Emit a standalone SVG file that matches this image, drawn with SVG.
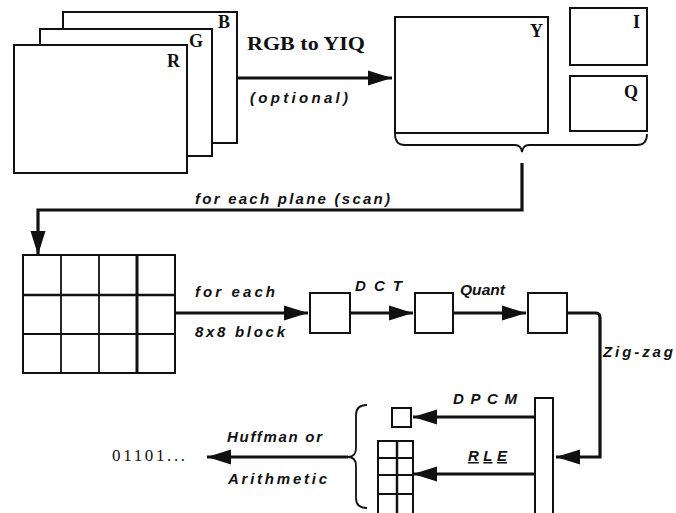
<svg xmlns="http://www.w3.org/2000/svg" width="676" height="513" viewBox="0 0 676 513">
<defs>
<style>
.box{fill:#fff;stroke:#111;stroke-width:2}
.thin{fill:none;stroke:#111;stroke-width:1.8}
.conn{fill:none;stroke:#111;stroke-width:3.2}
.lbl{font-family:"Liberation Serif",serif;font-weight:bold;fill:#111}
.it{font-family:"Liberation Sans",sans-serif;font-weight:bold;font-style:italic;fill:#111;font-size:15px}
</style>
<marker id="ah" markerUnits="userSpaceOnUse" markerWidth="26" markerHeight="18" refX="24" refY="9" orient="auto">
<path d="M0,1.5 L24,9 L0,16.5 Z" fill="#111"/>
</marker>
</defs>
<rect width="676" height="513" fill="#fff"/>

<g id="rgb-planes">
<rect class="box" x="63" y="12" width="174" height="131"/>
<text class="lbl" x="218" y="28" font-size="18">B</text>
<rect class="box" x="40" y="29" width="172" height="127"/>
<text class="lbl" x="189" y="47" font-size="18">G</text>
<rect class="box" x="14" y="45" width="173" height="128"/>
<text class="lbl" x="167" y="67" font-size="18">R</text>
</g>

<g id="yiq-planes">
<rect class="box" x="395" y="17" width="153" height="116"/>
<text class="lbl" x="530" y="37" font-size="18">Y</text>
<rect class="box" x="570" y="8" width="77" height="57"/>
<text class="lbl" x="633" y="28" font-size="18">I</text>
<rect class="box" x="570" y="76" width="77" height="55"/>
<text class="lbl" x="624" y="98" font-size="18">Q</text>
<path class="thin" d="M395,134 Q395,145 405,145 L515,145 Q521,145 522,152 Q523,145 529,145 L637,145 Q647,145 647,134"/>
</g>

<g id="block-grid">
<rect class="box" x="23" y="255" width="152" height="118"/>
<path class="thin" d="M61,255 V373 M99,255 V373 M23,295 H175 M23,334 H175"/>
<path d="M137,255 V373" stroke="#111" stroke-width="3"/>
<path d="M23,295 H175" stroke="#111" stroke-width="2.6"/>
</g>

<g id="dct-input"><rect class="box" x="310" y="293" width="40" height="40"/></g>
<g id="dct-output"><rect class="box" x="415" y="293" width="38" height="40"/></g>
<g id="quant-output"><rect class="box" x="528" y="293" width="39" height="40"/></g>

<g id="zigzag-vector"><rect class="box" x="535" y="398" width="18" height="125"/></g>

<g id="dc-coef"><rect class="box" x="392" y="408" width="19" height="19"/></g>

<g id="ac-coefs">
<rect class="box" x="378" y="441" width="35" height="75"/>
<path class="thin" d="M397,441 V516 M378,458 H413 M378,475 H413 M378,494 H413"/>
<path d="M397,441 V516" stroke="#111" stroke-width="2.5"/>
</g>

<g id="coef-brace">
<path class="thin" d="M367,405 Q356,405 356,415 L356,448 Q356,457 348,457 Q356,457 356,466 L356,498 Q356,508 367,508"/>
</g>

<g id="output-bits">
<text x="112" y="461" font-family="Liberation Serif, serif" font-size="17" fill="#111" textLength="73">01101...</text>
</g>

<g id="connectors">
<line class="conn" x1="237" y1="78" x2="392" y2="78" marker-end="url(#ah)"/>
<polyline class="conn" points="522,163 522,210 38,210 38,255" marker-end="url(#ah)"/>
<line class="conn" x1="175" y1="313" x2="308" y2="313" marker-end="url(#ah)"/>
<line class="conn" x1="350" y1="313" x2="413" y2="313" marker-end="url(#ah)"/>
<line class="conn" x1="453" y1="313" x2="526" y2="313" marker-end="url(#ah)"/>
<path class="conn" d="M567,313 H596 Q600,313 600,318 V457 H556" marker-end="url(#ah)"/>
<line class="conn" x1="535" y1="417" x2="413" y2="417" marker-end="url(#ah)"/>
<line class="conn" x1="535" y1="474" x2="413" y2="474" marker-end="url(#ah)"/>
<line class="conn" x1="348" y1="457" x2="207" y2="457" marker-end="url(#ah)"/>
</g>

<g id="labels">
<text class="lbl" x="247" y="50" font-size="18" textLength="118" lengthAdjust="spacingAndGlyphs">RGB to YIQ</text>
<text class="it" x="250" y="103" textLength="98">(optional)</text>
<text class="it" x="195" y="204" textLength="195">for each plane (scan)</text>
<text class="it" x="195" y="297" textLength="80">for each</text>
<text class="it" x="195" y="337" textLength="90">8x8 block</text>
<text class="it" x="355" y="291" textLength="47">DCT</text>
<text class="it" x="460" y="295" textLength="45" lengthAdjust="spacingAndGlyphs">Quant</text>
<text class="it" x="603" y="357" textLength="70">Zig-zag</text>
<text class="it" x="453" y="404" textLength="64">DPCM</text>
<text class="it" x="468" y="461" textLength="39" text-decoration="underline">RLE</text>
<text class="it" x="227" y="442" textLength="95">Huffman or</text>
<text class="it" x="228" y="484" textLength="99">Arithmetic</text>
</g>
</svg>
